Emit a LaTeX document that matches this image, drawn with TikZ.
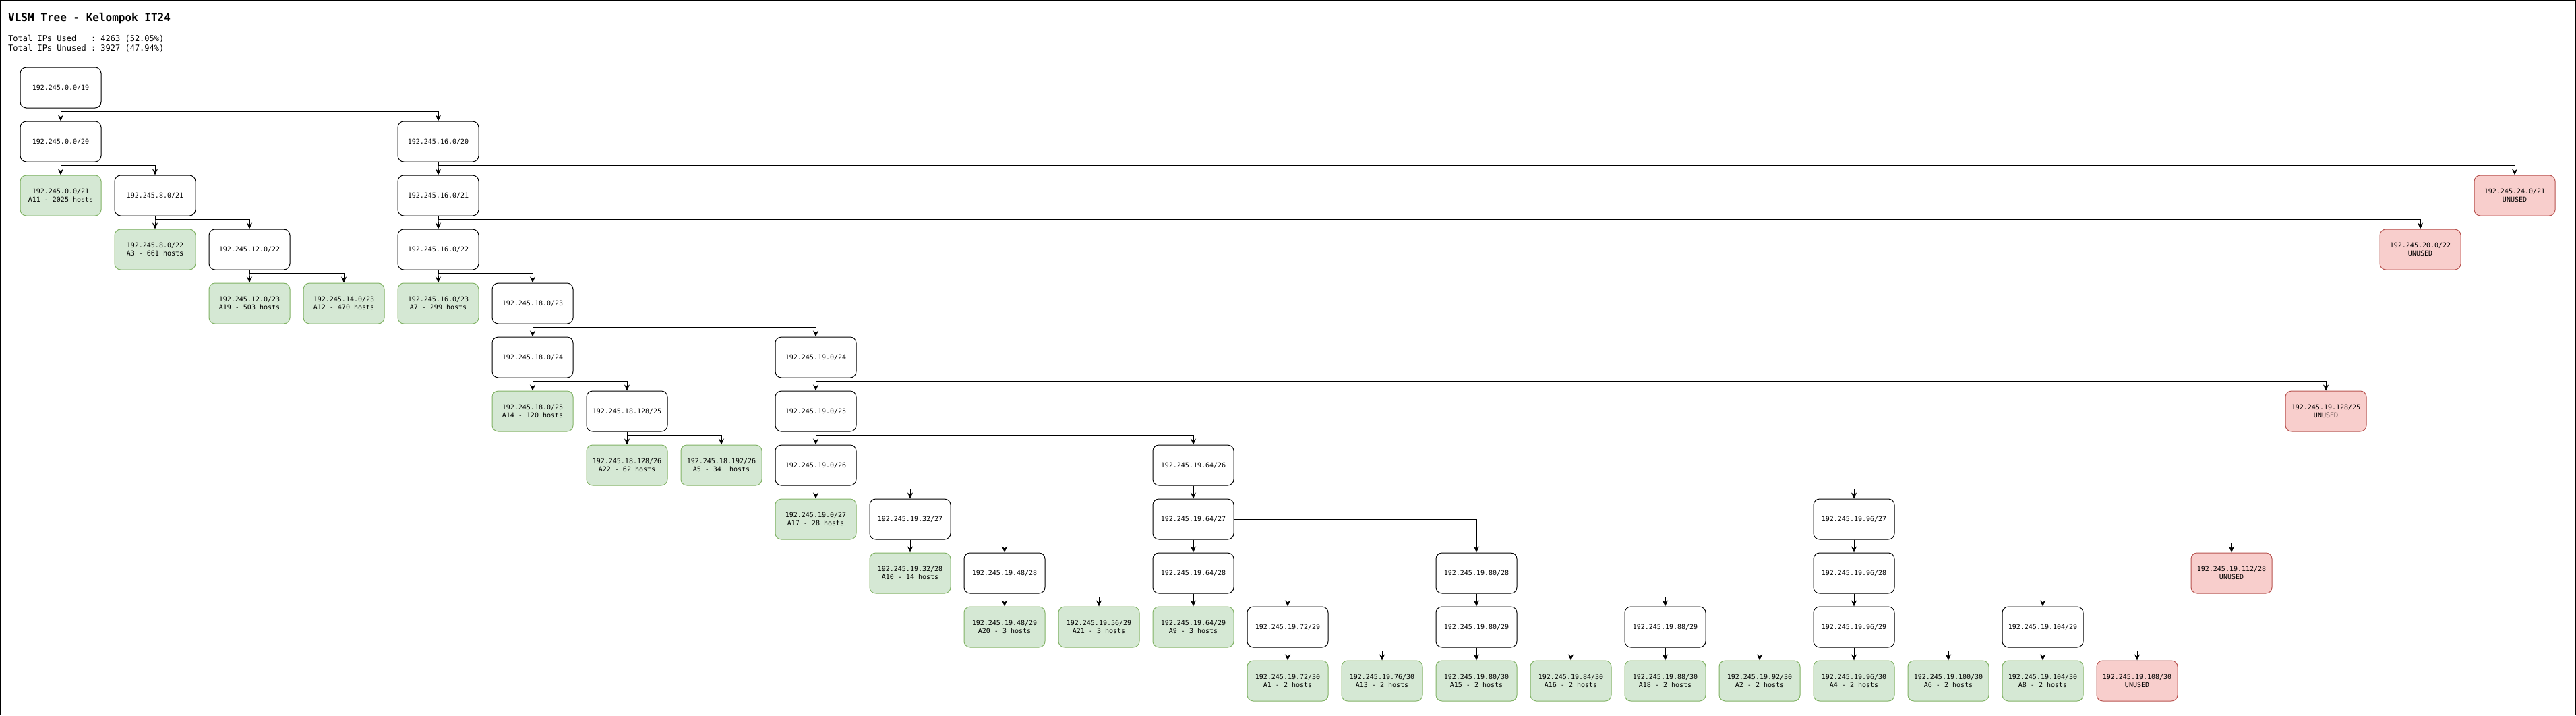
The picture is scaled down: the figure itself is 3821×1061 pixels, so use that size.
\documentclass[tikz,border=0pt]{standalone}
\usepackage{fontspec}
\setmonofont{DejaVu Sans Mono}
\usetikzlibrary{arrows.meta}
\definecolor{usedfill}{HTML}{D5E8D4}
\definecolor{useddraw}{HTML}{82B366}
\definecolor{freefill}{HTML}{F8CECC}
\definecolor{freedraw}{HTML}{B85450}
\tikzset{
  netbox/.style={draw=black, fill=white, line width=1pt, rounded corners=9pt,
    minimum width=120pt, minimum height=60pt, align=center,
    font=\ttfamily\fontsize{10}{12}\selectfont},
  usedbox/.style={netbox, draw=useddraw, fill=usedfill},
  freebox/.style={netbox, draw=freedraw, fill=freefill},
  link/.style={line width=1pt, -{Stealth[length=9pt,width=8pt]}}
}
% node at column #2, row #3
\newcommand{\subnet}[5]{
\node[#4] (#1) at ({90+140*#2},{130+80*#3}) {#5};
}
% parent bottom -> child top
\newcommand{\branch}[2]{
\draw[link] (#1.south) -- ++(0,5) -| (#2.north);
}
\begin{document}
\begin{tikzpicture}[x=1pt,y=-1pt]
\useasboundingbox (0,0) rectangle (3821,1061);
\draw[line width=1pt] (0.5,0.5) rectangle (3820.5,1060.5);

\node[anchor=west, inner sep=0, font=\ttfamily\bfseries\fontsize{16}{19}\selectfont] (title) at (12,27) {VLSM Tree - Kelompok IT24};
\node[anchor=west, inner sep=0, font=\ttfamily\fontsize{12}{14}\selectfont] (used) at (12,58) {Total IPs Used~~~: 4263 (52.05\%)};
\node[anchor=west, inner sep=0, font=\ttfamily\fontsize{12}{14}\selectfont] (unused) at (12,72) {Total IPs Unused : 3927 (47.94\%)};

\subnet{p0s19}{0}{0}{netbox}{192.245.0.0/19}

\subnet{p0s20}{0}{1}{netbox}{192.245.0.0/20}
\subnet{p16s20}{4}{1}{netbox}{192.245.16.0/20}

\subnet{p0s21}{0}{2}{usedbox}{192.245.0.0/21\\A11 - 2025 hosts}
\subnet{p8s21}{1}{2}{netbox}{192.245.8.0/21}
\subnet{p16s21}{4}{2}{netbox}{192.245.16.0/21}
\subnet{p24s21}{26}{2}{freebox}{192.245.24.0/21\\UNUSED}

\subnet{p8s22}{1}{3}{usedbox}{192.245.8.0/22\\A3 - 661 hosts}
\subnet{p12s22}{2}{3}{netbox}{192.245.12.0/22}
\subnet{p16s22}{4}{3}{netbox}{192.245.16.0/22}
\subnet{p20s22}{25}{3}{freebox}{192.245.20.0/22\\UNUSED}

\subnet{p12s23}{2}{4}{usedbox}{192.245.12.0/23\\A19 - 503 hosts}
\subnet{p14s23}{3}{4}{usedbox}{192.245.14.0/23\\A12 - 470 hosts}
\subnet{p16s23}{4}{4}{usedbox}{192.245.16.0/23\\A7 - 299 hosts}
\subnet{p18s23}{5}{4}{netbox}{192.245.18.0/23}

\subnet{p18s24}{5}{5}{netbox}{192.245.18.0/24}
\subnet{p19s24}{8}{5}{netbox}{192.245.19.0/24}

\subnet{p18s25}{5}{6}{usedbox}{192.245.18.0/25\\A14 - 120 hosts}
\subnet{p18x128s25}{6}{6}{netbox}{192.245.18.128/25}
\subnet{p19s25}{8}{6}{netbox}{192.245.19.0/25}
\subnet{p19x128s25}{24}{6}{freebox}{192.245.19.128/25\\UNUSED}

\subnet{p18x128s26}{6}{7}{usedbox}{192.245.18.128/26\\A22 - 62 hosts}
\subnet{p18x192s26}{7}{7}{usedbox}{192.245.18.192/26\\A5 - 34~~hosts}
\subnet{p19s26}{8}{7}{netbox}{192.245.19.0/26}
\subnet{p19x64s26}{12}{7}{netbox}{192.245.19.64/26}

\subnet{p19s27}{8}{8}{usedbox}{192.245.19.0/27\\A17 - 28 hosts}
\subnet{p19x32s27}{9}{8}{netbox}{192.245.19.32/27}
\subnet{p19x64s27}{12}{8}{netbox}{192.245.19.64/27}
\subnet{p19x96s27}{19}{8}{netbox}{192.245.19.96/27}

\subnet{p19x32s28}{9}{9}{usedbox}{192.245.19.32/28\\A10 - 14 hosts}
\subnet{p19x48s28}{10}{9}{netbox}{192.245.19.48/28}
\subnet{p19x64s28}{12}{9}{netbox}{192.245.19.64/28}
\subnet{p19x80s28}{15}{9}{netbox}{192.245.19.80/28}
\subnet{p19x96s28}{19}{9}{netbox}{192.245.19.96/28}
\subnet{p19x112s28}{23}{9}{freebox}{192.245.19.112/28\\UNUSED}

\subnet{p19x48s29}{10}{10}{usedbox}{192.245.19.48/29\\A20 - 3 hosts}
\subnet{p19x56s29}{11}{10}{usedbox}{192.245.19.56/29\\A21 - 3 hosts}
\subnet{p19x64s29}{12}{10}{usedbox}{192.245.19.64/29\\A9 - 3 hosts}
\subnet{p19x72s29}{13}{10}{netbox}{192.245.19.72/29}
\subnet{p19x80s29}{15}{10}{netbox}{192.245.19.80/29}
\subnet{p19x88s29}{17}{10}{netbox}{192.245.19.88/29}
\subnet{p19x96s29}{19}{10}{netbox}{192.245.19.96/29}
\subnet{p19x104s29}{21}{10}{netbox}{192.245.19.104/29}

\subnet{p19x72s30}{13}{11}{usedbox}{192.245.19.72/30\\A1 - 2 hosts}
\subnet{p19x76s30}{14}{11}{usedbox}{192.245.19.76/30\\A13 - 2 hosts}
\subnet{p19x80s30}{15}{11}{usedbox}{192.245.19.80/30\\A15 - 2 hosts}
\subnet{p19x84s30}{16}{11}{usedbox}{192.245.19.84/30\\A16 - 2 hosts}
\subnet{p19x88s30}{17}{11}{usedbox}{192.245.19.88/30\\A18 - 2 hosts}
\subnet{p19x92s30}{18}{11}{usedbox}{192.245.19.92/30\\A2 - 2 hosts}
\subnet{p19x96s30}{19}{11}{usedbox}{192.245.19.96/30\\A4 - 2 hosts}
\subnet{p19x100s30}{20}{11}{usedbox}{192.245.19.100/30\\A6 - 2 hosts}
\subnet{p19x104s30}{21}{11}{usedbox}{192.245.19.104/30\\A8 - 2 hosts}
\subnet{p19x108s30}{22}{11}{freebox}{192.245.19.108/30\\UNUSED}

\branch{p0s19}{p0s20}
\branch{p0s19}{p16s20}

\branch{p0s20}{p0s21}
\branch{p0s20}{p8s21}
\branch{p16s20}{p16s21}
\branch{p16s20}{p24s21}

\branch{p8s21}{p8s22}
\branch{p8s21}{p12s22}
\branch{p16s21}{p16s22}
\branch{p16s21}{p20s22}

\branch{p12s22}{p12s23}
\branch{p12s22}{p14s23}
\branch{p16s22}{p16s23}
\branch{p16s22}{p18s23}

\branch{p18s23}{p18s24}
\branch{p18s23}{p19s24}

\branch{p18s24}{p18s25}
\branch{p18s24}{p18x128s25}
\branch{p19s24}{p19s25}
\branch{p19s24}{p19x128s25}

\branch{p18x128s25}{p18x128s26}
\branch{p18x128s25}{p18x192s26}
\branch{p19s25}{p19s26}
\branch{p19s25}{p19x64s26}

\branch{p19s26}{p19s27}
\branch{p19s26}{p19x32s27}
\branch{p19x64s26}{p19x64s27}
\branch{p19x64s26}{p19x96s27}

\branch{p19x32s27}{p19x32s28}
\branch{p19x32s27}{p19x48s28}
\branch{p19x64s27}{p19x64s28}
\draw[link] (p19x64s27.east) -| (p19x80s28.north);
\branch{p19x96s27}{p19x96s28}
\branch{p19x96s27}{p19x112s28}

\branch{p19x48s28}{p19x48s29}
\branch{p19x48s28}{p19x56s29}
\branch{p19x64s28}{p19x64s29}
\branch{p19x64s28}{p19x72s29}
\branch{p19x80s28}{p19x80s29}
\branch{p19x80s28}{p19x88s29}
\branch{p19x96s28}{p19x96s29}
\branch{p19x96s28}{p19x104s29}

\branch{p19x72s29}{p19x72s30}
\branch{p19x72s29}{p19x76s30}
\branch{p19x80s29}{p19x80s30}
\branch{p19x80s29}{p19x84s30}
\branch{p19x88s29}{p19x88s30}
\branch{p19x88s29}{p19x92s30}
\branch{p19x96s29}{p19x96s30}
\branch{p19x96s29}{p19x100s30}
\branch{p19x104s29}{p19x104s30}
\branch{p19x104s29}{p19x108s30}

\end{tikzpicture}
\end{document}
